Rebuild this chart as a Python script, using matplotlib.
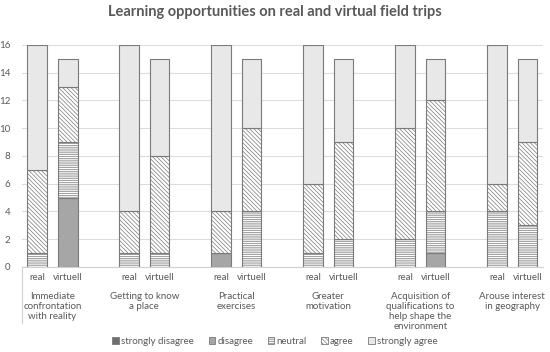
import matplotlib.pyplot as plt
from matplotlib.patches import Patch
import numpy as np

plt.rcParams['font.family'] = ['Lato', 'DejaVu Sans']
plt.rcParams['hatch.color'] = '#9a9a9a'
plt.rcParams['hatch.linewidth'] = 0.5

# Data
groups = ["Immediate\nconfrontation\nwith reality", "Getting to know\na place", "Practical\nexercises",
          "Greater\nmotivation", "Acquisition of\nqualifications to\nhelp shape the\nenvironment",
          "Arouse interest\nin geography"]
bar_labels = ["real", "virtuell"]
# order per group: real, virtuell
strongly_disagree = [0, 0, 0, 0, 0, 0, 0, 0, 0, 0, 0, 0]
disagree = [0, 5, 0, 0, 1, 0, 0, 0, 0, 1, 0, 0]
neutral = [1, 4, 1, 1, 0, 4, 1, 2, 2, 3, 4, 3]
agree = [6, 4, 3, 7, 3, 6, 5, 7, 8, 8, 2, 6]
strongly_agree = [9, 2, 12, 7, 12, 5, 10, 6, 6, 3, 10, 6]

series = [
    ("strongly disagree", strongly_disagree, '#6f6f6f', None),
    ("disagree", disagree, '#a6a6a6', None),
    ("neutral", neutral, 'white', '-' * 9),
    ("agree", agree, 'white', '\\' * 8),
    ("strongly agree", strongly_agree, '#e8e8e8', None),
]

x = []
for i in range(len(groups)):
    x += [3 * i, 3 * i + 1]
x = np.array(x)

fig = plt.figure(figsize=(5.5, 3.52), dpi=100)
ax = fig.add_axes([0.0395, 0.2415, 0.9475, 0.631])

bottom = np.zeros(len(x))
for name, vals, col, hatch in series:
    vals = np.array(vals)
    ax.bar(x, vals, bottom=bottom, width=0.64, color=col, hatch=hatch,
           edgecolor='#7a7a7a', linewidth=0.8, zorder=3)
    bottom += vals

ax.set_xlim(-0.5, 3 * len(groups) - 1.5)
ax.set_ylim(0, 16)
ax.set_yticks(range(0, 17, 2))
ax.grid(axis='y', color='#dcdcdc', linewidth=0.8, zorder=0)
for s in ['top', 'right', 'left']:
    ax.spines[s].set_visible(False)
ax.spines['bottom'].set_color('#d0d0d0')
ax.tick_params(axis='y', length=0, labelsize=7, labelcolor='#595959', pad=8)
ax.set_xticks(x)
ax.set_xticklabels(bar_labels * len(groups))
ax.tick_params(axis='x', length=0, labelsize=7, labelcolor='#595959', pad=4)

for i, g in enumerate(groups):
    ax.annotate(g, xy=(3 * i + 0.5, 0), xycoords=('data', 'axes fraction'),
                xytext=(0, -18), textcoords='offset points', ha='center', va='top',
                fontsize=7, color='#595959', linespacing=1.15)

# left divider of the category axis
ax.plot([0, 0], [0, -0.25], transform=ax.transAxes, color='#d0d0d0', lw=0.8, clip_on=False)

fig.text(0.5, 0.965, "Learning opportunities on real and virtual field trips", ha='center', va='center',
         fontsize=10.5, fontweight='bold', color='#595959')

handles = [Patch(facecolor=c, hatch=h, edgecolor='#7a7a7a', linewidth=0.6, label=n)
           for n, v, c, h in series]
fig.legend(handles=handles, loc='center', bbox_to_anchor=(0.5, 0.031), ncol=5, frameon=False,
           fontsize=7, labelcolor='#595959', handlelength=0.7, handleheight=0.7,
           handletextpad=0.2, columnspacing=1.5)

fig.savefig('out.png', dpi=100)
